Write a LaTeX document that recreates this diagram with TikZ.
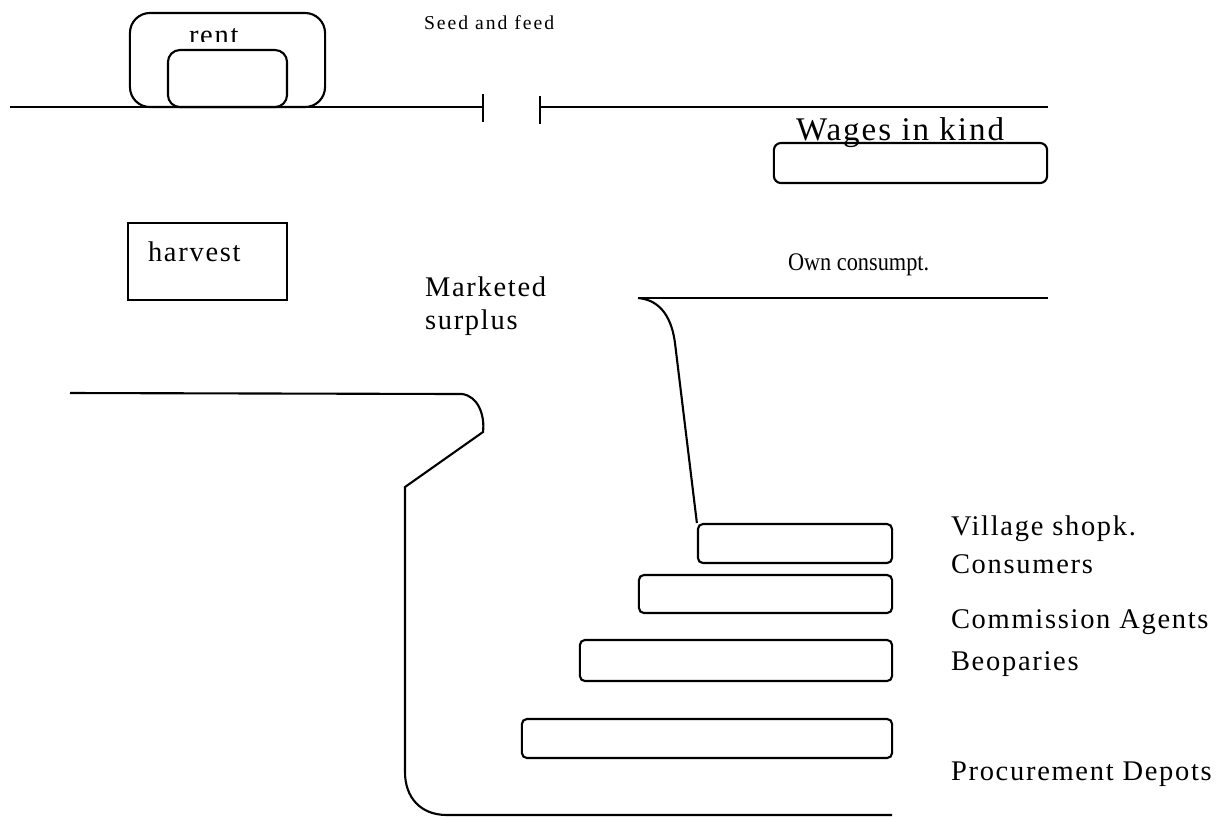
\documentclass[tikz,border=0pt]{standalone}
\usepackage{fontspec}
\setmainfont{Liberation Serif}
\newfontfamily\spacedfont[LetterSpace=6]{Liberation Serif}
\newfontfamily\widefont[LetterSpace=10]{Liberation Serif}
\begin{document}
\begin{tikzpicture}
[x=0.01cm, y=-0.01cm, line width=0.6pt,
lbl/.style={inner sep=0pt, anchor=base west, font=\spacedfont\fontsize{8.1}{9}\selectfont},
bigbox/.style={rectangle, draw, rounded corners=0.2cm, inner sep=0pt},
bar/.style={rectangle, draw, rounded corners=0.05cm, inner sep=0pt, minimum height=0.39cm}]

\useasboundingbox (0,0) rectangle (1229,817);

% top line with the gap
\coordinate (top0) at (10,107);
\coordinate (gapl) at (483,107);
\coordinate (gapr) at (540,107);
\coordinate (top1) at (1048,107);
\draw (top0) -- (gapl);
\draw (gapr) -- (top1);
\draw ([yshift=-0.15cm]gapl) -- ([yshift=0.13cm]gapl);
\draw ([yshift=-0.17cm]gapr) -- ([yshift=0.11cm]gapr);

% rent
\begin{scope}
  \clip (130,13) rectangle (325,41);
  \node[lbl] (rent) at (188,44) {rent};
\end{scope}
\node[bigbox, minimum width=1.95cm, minimum height=0.94cm] (rentout) at (227.5,60) {};
\node[bigbox, rounded corners=0.12cm, fill=white, minimum width=1.19cm, minimum height=0.57cm] (rentin) at (227.5,78.5) {};

\node[lbl, font=\widefont\fontsize{5.6}{7}\selectfont] (seed) at (423,29) {Seed and feed};

% wages
\node[lbl, font=\spacedfont\fontsize{9.4}{10}\selectfont] (wages) at (795,140) {Wages in kind};
\node[bar, rounded corners=0.07cm, minimum width=2.73cm, minimum height=0.40cm] (wagesbox) at (910.5,163) {};

% harvest
\node[rectangle, draw, inner sep=0pt, minimum width=1.59cm, minimum height=0.77cm] (harvbox) at (207.5,261.5) {};
\node[lbl] (harvest) at (147,261) {harvest};

\node[lbl] (mkt) at (424,296) {Marketed};
\node[lbl] (sur) at (424,329) {surplus};

% own consumption
\node[inner sep=0pt, anchor=base west, font=\fontsize{7.2}{8}\selectfont] (own) at (787,270) {\scalebox{0.88}[1]{Own consumpt.}};
\coordinate (own0) at (638,298);
\coordinate (own1) at (1048,298);
\draw (own0) -- (own1);

% outlets
\node[bar, minimum width=1.94cm] (vshop) at (795,543.5) {};
\node[bar, minimum width=2.53cm, minimum height=0.38cm] (comm) at (765.5,594) {};
\node[bar, minimum width=3.12cm, minimum height=0.41cm] (beop) at (736,660.5) {};
\node[bar, minimum width=3.70cm] (proc) at (707,738.5) {};

\draw (own0) .. controls (662,300) and (672,320) .. (675,343) -- (vshop.north west);

\node[lbl] (vlbl) at (950,535) {Village shopk.};
\node[lbl] (clbl) at (950,573) {Consumers};
\node[lbl] (albl) at (950,628) {Commission Agents};
\node[lbl] (blbl) at (950,670) {Beoparies};
\node[lbl] (plbl) at (950,780) {Procurement Depots};

% big outline on the left
\coordinate (left0) at (70,393);
\coordinate (bot1) at (892,815);
\draw (left0) -- (462,394) .. controls (478,396) and (485,415) .. (483,432)
  -- (405,487) -- (405,772) .. controls (405,797) and (420,815) .. (447,815) -- (bot1);

\end{tikzpicture}
\end{document}
